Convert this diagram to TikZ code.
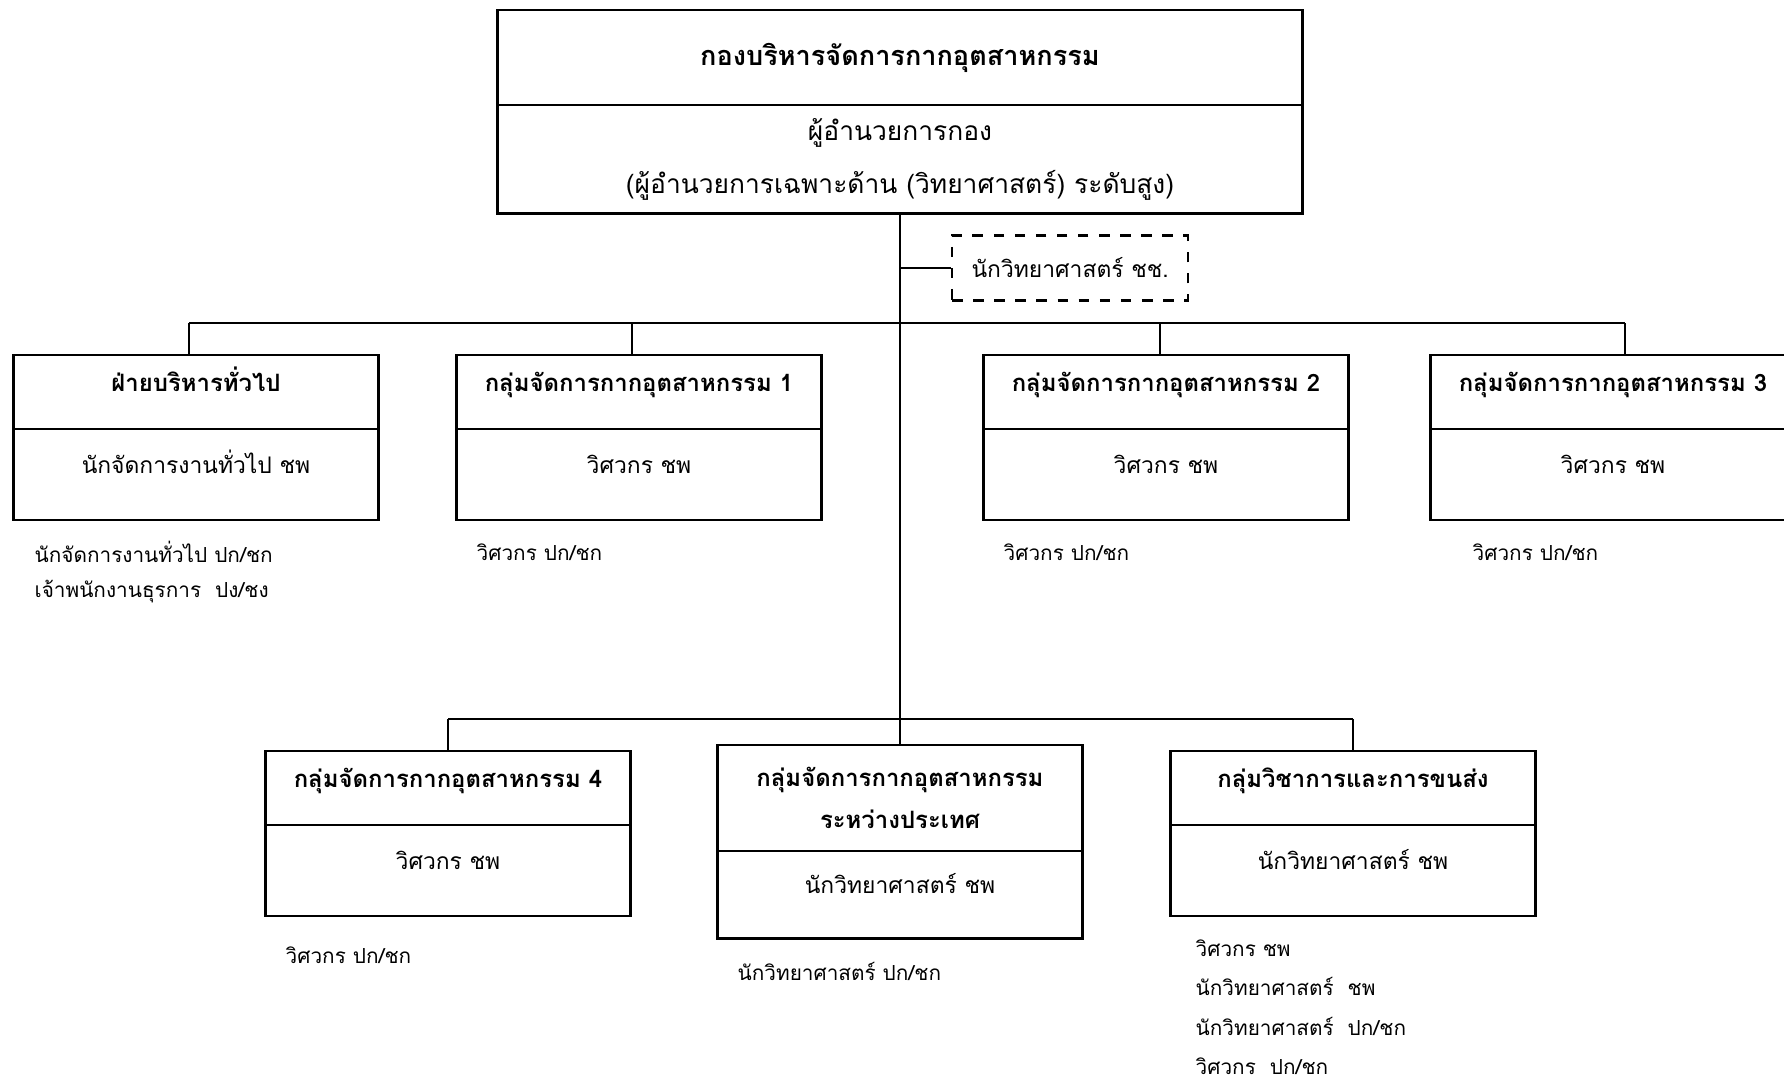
\documentclass[tikz,border=0pt]{standalone}
\usepackage{fontspec}
\setmainfont[Script=Thai]{Loma}
\usetikzlibrary{positioning,calc}

\begin{document}
\begin{tikzpicture}[x=0.01cm, y=-0.01cm,
    box/.style={draw, line width=0.8pt, outer sep=0pt, minimum width=3.65cm, align=center, inner sep=2pt},
    level/.style={text height=2mm, text depth=2.2mm},
    head/.style={box, level, anchor=north, minimum height=0.74cm, font=\bfseries\fontsize{6.8}{11}\selectfont},
    body/.style={box, level, anchor=north, minimum height=0.91cm, font=\fontsize{6.5}{11}\selectfont},
    note/.style={anchor=north west, align=left, inner sep=0pt, font=\fontsize{5.9}{10}\selectfont},
    link/.style={line width=0.45pt}]
\useasboundingbox (0,0) rectangle (1784,1080);

% director
\node[box, anchor=north, minimum width=8.05cm, minimum height=0.95cm,
    font=\bfseries\fontsize{7.7}{11}\selectfont] (dir) at (900,10) {กองบริหารจัดการกากอุตสาหกรรม};
\node[box, anchor=north, minimum width=8.05cm, minimum height=1.08cm,
    font=\fontsize{7.5}{15}\selectfont] (dirb) at (dir.south)
    {ผู้อำนวยการกอง\\(ผู้อำนวยการเฉพาะด้าน (วิทยาศาสตร์) ระดับสูง)};
\node[draw, dashed, line width=0.6pt, anchor=west, minimum width=2.36cm, minimum height=0.65cm,
    font=\fontsize{6.5}{10}\selectfont] (sci) at (951,268) {นักวิทยาศาสตร์ ชช.};

% upper row
\node[head] (g1h) at (196,355) {ฝ่ายบริหารทั่วไป};
\node[body] (g1b) at (g1h.south) {นักจัดการงานทั่วไป ชพ};
\node[head] (g2h) at (639,355) {กลุ่มจัดการกากอุตสาหกรรม 1};
\node[body] (g2b) at (g2h.south) {วิศวกร ชพ};
\node[head] (g3h) at (1166,355) {กลุ่มจัดการกากอุตสาหกรรม 2};
\node[body] (g3b) at (g3h.south) {วิศวกร ชพ};
\node[head] (g4h) at (1613,355) {กลุ่มจัดการกากอุตสาหกรรม 3};
\node[body] (g4b) at (g4h.south) {วิศวกร ชพ};

% lower row
\node[head] (g5h) at (448,751) {กลุ่มจัดการกากอุตสาหกรรม 4};
\node[body] (g5b) at (g5h.south) {วิศวกร ชพ};
\node[box, anchor=north, minimum height=1.06cm, font=\bfseries\fontsize{6.8}{12}\selectfont] (g6h)
    at (900,745) {กลุ่มจัดการกากอุตสาหกรรม\\ระหว่างประเทศ};
\node[body, minimum height=0.87cm] (g6b) at (g6h.south) {นักวิทยาศาสตร์ ชพ};
\node[head] (g7h) at (1353,751) {กลุ่มวิชาการและการขนส่ง};
\node[body] (g7b) at (g7h.south) {นักวิทยาศาสตร์ ชพ};

% notes
\node[note] (n1) at (34,540) {นักจัดการงานทั่วไป ปก/ชก\\เจ้าพนักงานธุรการ~~ปง/ชง};
\node[note] (n2) at (476,543) {วิศวกร ปก/ชก};
\node[note] (n3) at (1003,543) {วิศวกร ปก/ชก};
\node[note] (n4) at (1472,543) {วิศวกร ปก/ชก};
\node[note] (n5) at (285,946) {วิศวกร ปก/ชก};
\node[note] (n6) at (737,962) {นักวิทยาศาสตร์ ปก/ชก};
\node[note, font=\fontsize{5.9}{11.2}\selectfont] (n7) at (1195,939)
    {วิศวกร ชพ\\นักวิทยาศาสตร์~~ชพ\\นักวิทยาศาสตร์~~ปก/ชก\\วิศวกร~~ปก/ชก};

% connectors
\coordinate (upbar) at (901,323);
\coordinate (lowbar) at (901,719);
\draw[link] (dirb.south) -- (dirb.south |- lowbar);
\draw[link] (dirb.south |- sci) -- (sci.west);
\draw[link] ([xshift=-0.07cm]g1h.north |- upbar) -- ([xshift=0.12cm]g4h.north |- upbar);
\foreach \n/\dx in {g1/-0.07,g2/-0.07,g3/-0.06,g4/0.12}
    \draw[link] ([xshift=\dx cm]\n h.north) -- ([xshift=\dx cm]\n h.north |- upbar);
\draw[link] (g5h.north |- lowbar) -- (g7h.north |- lowbar);
\foreach \n in {g5,g6,g7}
    \draw[link] (\n h.north) -- (\n h.north |- lowbar);

\end{tikzpicture}
\end{document}
